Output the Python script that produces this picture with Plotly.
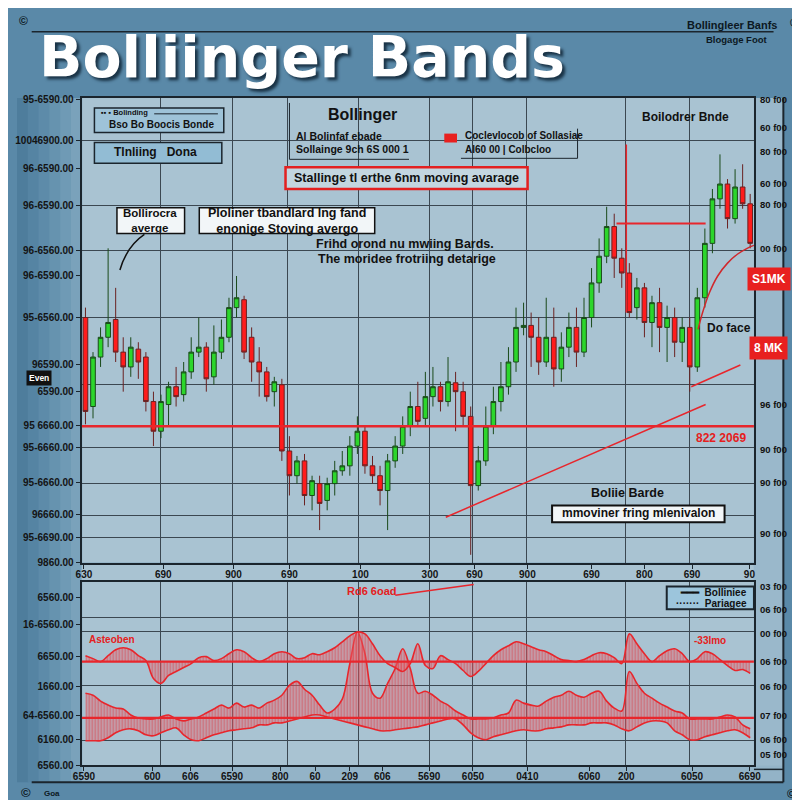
import plotly.graph_objects as go

# ---------------- data ----------------
days = list(range(89))
opens = [9690,9600,9650,9670,9688,9655,9640,9658,9650,9605,
         9575,9602,9620,9612,9635,9655,9660,9630,9655,9670,
         9700,9708,9670,9645,9635,9615,9622,9555,9530,9545,
         9510,9522,9505,9522,9535,9540,9560,9575,9540,9530,
         9515,9545,9560,9580,9600,9588,9610,9620,9605,9624,
         9615,9590,9520,9545,9580,9605,9620,9645,9680,9682,
         9670,9645,9670,9638,9660,9680,9655,9690,9725,9752,
         9782,9750,9735,9700,9720,9685,9705,9680,9690,9665,
         9680,9640,9710,9765,9810,9825,9790,9822,9805]
closes = [9595,9650,9670,9685,9655,9640,9660,9645,9605,9575,
          9605,9620,9610,9635,9655,9660,9628,9655,9670,9700,
          9710,9655,9645,9635,9610,9625,9555,9530,9545,9510,
          9525,9502,9522,9535,9540,9560,9575,9540,9530,9515,
          9545,9560,9580,9600,9585,9610,9620,9605,9625,9615,
          9590,9520,9545,9580,9605,9620,9645,9680,9682,9670,
          9645,9670,9638,9660,9680,9655,9690,9725,9752,9782,
          9750,9735,9695,9720,9685,9705,9680,9690,9665,9680,
          9640,9710,9765,9810,9825,9790,9822,9805,9765]
highs = [9700,9655,9680,9760,9720,9670,9670,9665,9655,9615,
         9612,9625,9640,9645,9670,9690,9665,9682,9688,9710,
         9732,9712,9680,9660,9640,9630,9628,9570,9550,9552,
         9530,9530,9528,9545,9555,9570,9590,9580,9550,9540,
         9552,9570,9590,9615,9625,9635,9640,9625,9650,9635,
         9625,9600,9560,9600,9620,9645,9660,9700,9705,9695,
         9690,9710,9700,9675,9695,9700,9710,9740,9770,9802,
         9795,9760,9745,9730,9725,9712,9720,9702,9700,9690,
         9690,9720,9780,9820,9855,9830,9840,9845,9815]
lows = [9582,9588,9640,9660,9645,9615,9630,9628,9595,9560,
        9568,9580,9600,9605,9628,9650,9615,9622,9648,9665,
        9690,9648,9625,9610,9605,9600,9545,9510,9522,9500,
        9495,9475,9495,9510,9530,9530,9552,9532,9522,9500,
        9475,9538,9552,9570,9580,9580,9600,9595,9600,9575,
        9580,9450,9515,9540,9572,9595,9612,9635,9672,9640,
        9632,9640,9620,9625,9650,9640,9650,9680,9715,9745,
        9730,9720,9690,9688,9670,9660,9655,9645,9650,9645,
        9615,9635,9700,9755,9800,9780,9785,9800,9760]

# moving-average arc at the right end
ma_x = [81.1, 81.7, 82.6, 83.7, 85.0, 86.3, 87.6, 88.5]
ma_y = [9678, 9695, 9715, 9732, 9745, 9754, 9760, 9763]

# upper oscillator (relative to its own zero line)
osc1 = [6,3,0,6,12,14,12,6,1,-17,
        -22,-14,-10,-6,-2,4,5,1,3,8,
        12,10,4,0,3,8,10,8,3,4,
        8,7,10,14,20,26,30,28,18,6,
        -2,-6,-10,-2,18,-4,-7,6,2,-2,
        -9,-15,-10,-2,6,12,16,20,18,15,
        12,10,6,2,1,0,2,6,9,8,
        4,-2,28,18,8,0,6,11,13,8,
        0,3,10,8,2,-4,-9,-8,-12]
# lower band oscillator
band_upper = [25,23,17,13,10,9,3,0,-1,-1,
              1,3,-1,-3,-1,1,5,9,13,10,
              15,11,13,10,15,18,23,33,37,29,
              23,13,5,9,19,55,87,65,25,20,
              35,50,70,50,25,27,23,17,13,7,
              3,-1,-1,-1,0,3,5,18,15,13,
              12,17,21,23,27,23,21,25,27,17,
              10,7,47,35,25,20,15,11,7,5,
              -1,-1,-1,-1,1,3,1,-7,-11]
band_lower = [-23,-23,-23,-20,-15,-12,-11,-13,-17,-18,
              -15,-12,-10,-17,-22,-23,-20,-17,-15,-13,
              -12,-11,-10,-7,-7,-5,-5,-3,-1,1,
              3,3,1,-1,-3,-5,-7,-9,-11,-13,
              -13,-12,-11,-10,-9,-7,-5,-3,-1,-1,
              -7,-15,-20,-22,-19,-17,-15,-13,-12,-13,
              -13,-11,-10,-9,-7,-7,-7,-5,-5,-5,
              -7,-11,-13,-9,-5,-3,-3,-5,-13,-17,
              -22,-22,-19,-17,-15,-13,-12,-15,-20]

# tick labels
top_y_vals = [9910,9869,9841,9803,9758,9733,9690,9642,9615,9581,9559,9523,9491,9468,9442]
top_y_text = ["95-6590.00","10046900.00","96-6590.00","96-6590.00","96-6560.00","96-6590.00",
              "95-6560.00","96590.00","6590.00","95 6660.00","95-6660.00","95-6660.00",
              "96660.00","95-6690.00","9860.00"]
top_y_grid = [9869,9803,9758,9690,9622,9559,9522,9490,9468]
top_x_vals = [-0.2,10.3,19.6,27.0,36.4,45.6,51.5,58.5,67.0,74.0,80.3,87.9]
top_x_text = ["630","690","900","690","100","300","690","900","690","800","690","90"]
grid_x = [10.0,19.4,26.8,36.1,45.5,51.2,58.4,71.5,80.0]
bot_x_vals = [-0.2,8.85,13.9,19.4,25.8,30.4,35.0,39.3,45.5,51.3,58.5,66.7,71.6,80.3,87.95]
bot_x_text = ["6590","600","606","6590","800","60","209","606","5690","6050","0410","6060","200","6050","6690"]
bot_y_vals = [122,95,62,32,2,-22,-48]
bot_y_text = ["6560.00","16-6560.00","6650.00","1660.00","64-6560.00","6160.00","6560.00"]
bot_y_grid = [102,87,33,-23]
right_top = [(90,"80 f00"),(118,"60 f00"),(142,"80 f00"),(174,"60 f00"),(196,"80 f00"),
             (240,"00 f00"),(398,"96 f00"),(443,"90 f00"),(477,"90 f00"),(528,"90 f00")]
right_bot = [(582,"03 f00"),(605,"06 f00"),(630,"00 f00"),(658,"06 f00"),(683,"06 f00"),
             (713,"07 f00"),(737,"06 f00"),(752,"05 f00")]

# ---------------- helpers ----------------
def X(px):
    return px / 800.0

def Y(py):
    return 1 - py / 800.0

DARK = "#1b252d"
RED = "#e8262c"
FONT = "Liberation Sans"
shapes = []
ann = []

def rect(x0, y0, x1, y1, fill=None, line=None, lw=1.5, layer="above"):
    shapes.append(dict(type="rect", xref="paper", yref="paper", x0=X(x0), x1=X(x1),
                       y0=Y(y1), y1=Y(y0), fillcolor=fill or "rgba(0,0,0,0)",
                       line=dict(color=line or "rgba(0,0,0,0)", width=lw if line else 0),
                       layer=layer))

def pline(x0, y0, x1, y1, color=DARK, w=1.5, layer="above"):
    shapes.append(dict(type="line", xref="paper", yref="paper", x0=X(x0), x1=X(x1),
                       y0=Y(y0), y1=Y(y1), line=dict(color=color, width=w), layer=layer))

def text(t, x, y, size=12, color="#111111", xa="center", bold=True, family=FONT, **kw):
    ann.append(dict(text=t, x=X(x), y=Y(y), xref="paper", yref="paper", xanchor=xa,
                    yanchor="middle", showarrow=False,
                    font=dict(family=family, size=size, color=color,
                              weight="bold" if bold else "normal"), **kw))

# ---------------- background decor ----------------
left_cols = ["#4e7d9c", "#5584a3", "#5d8ba9", "#6693af", "#6f9ab5", "#7aa2bb"]
for i, c in enumerate(left_cols):
    rect(i * 11, 88, i * 11 + 11.5, 780, fill=c, layer="below")
rect(66, 558, 752, 577, fill="#a9c3d2", layer="below")
rect(752, 88, 782, 767, fill="#9ab8cb", layer="below")
rect(66, 763, 782, 780, fill="#93b3c7", layer="below")
pline(15, 21, 772, 21, w=1.5)
pline(15, 780, 782, 780, w=2)
pline(782, 88, 782, 780, w=2)
pline(752, 767, 782, 767, w=1.5)

# ---------------- traces ----------------
fig = go.Figure()
fig.add_trace(go.Candlestick(
    x=days, open=opens, high=highs, low=lows, close=closes,
    increasing=dict(fillcolor="#2cd62c", line=dict(color="#1a4a1a", width=1)),
    decreasing=dict(fillcolor="#ff1c1c", line=dict(color="#6a2222", width=1)),
    whiskerwidth=0, xaxis="x", yaxis="y", showlegend=False, hoverinfo="skip"))
fig.add_trace(go.Scatter(x=ma_x, y=ma_y, mode="lines", xaxis="x", yaxis="y",
                         line=dict(color="#d0282c", width=1.5, shape="spline"),
                         showlegend=False, hoverinfo="skip"))

pattern = dict(shape="|", fgcolor="#e01f27", bgcolor="rgba(235,160,170,0.3)", size=3, solidity=0.6)
fig.add_trace(go.Scatter(x=days, y=band_lower, mode="lines", xaxis="x2", yaxis="y2",
                         line=dict(color=RED, width=1.6, shape="spline"),
                         showlegend=False, hoverinfo="skip"))
fig.add_trace(go.Scatter(x=days, y=band_upper, mode="lines", xaxis="x2", yaxis="y2",
                         fill="tonexty", fillpattern=pattern,
                         line=dict(color=RED, width=1.6, shape="spline"),
                         showlegend=False, hoverinfo="skip"))
fig.add_trace(go.Scatter(x=days, y=osc1, mode="lines", xaxis="x2", yaxis="y3",
                         fill="tozeroy", fillpattern=pattern,
                         line=dict(color=RED, width=1.6, shape="spline"),
                         showlegend=False, hoverinfo="skip"))

# ---------------- red lines in data space ----------------
def dline(x0, y0, x1, y1, xref="x", yref="y", color=RED, w=1.6):
    shapes.append(dict(type="line", xref=xref, yref=yref, x0=x0, x1=x1, y0=y0, y1=y1,
                       line=dict(color=color, width=w), layer="above"))

dline(-0.5, 9580, 88.5, 9580, w=2.5)
dline(71.6, 9695, 71.6, 9865, w=1.5)
dline(70.3, 9785, 82.1, 9785, w=2)
dline(47.7, 9488, 82.1, 9602, w=1.5)
dline(80.2, 9620, 86.7, 9642, w=1.5)
dline(-0.5, 0, 88.5, 0, xref="x2", yref="y2", w=2.2)
dline(-0.5, 0, 88.5, 0, xref="x2", yref="y3", w=2.2)

# ---------------- annotations ----------------
text("Bolliinger Bands", 20, 47, size=57, color="#ffffff", xa="left", family="DejaVu Sans")
ann[-1]["font"]["shadow"] = "3px 3px 3px #1a3346"
text("Bollingleer Banfs", 730, 14, size=11, color="#0c1822")
text("Blogage Foot", 735, 29, size=9.5, color="#0c1822")
text("©", 7, 10, size=12, color="#0c1822")
text("©", 793, 12, size=12, color="#0c1822")
text("©", 9, 790, size=13, color="#0c1822")
text("Goa", 26, 791, size=8, color="#0c1822", xa="left")
text("©", 790, 792, size=12, color="#0c1822")

# box A / B
rect(79, 98, 211, 123, fill="#9ec3d8", line=DARK)
text("▪▪ ▪ Bolinding", 84, 103, size=7.5, xa="left")
pline(140, 104, 205, 104, w=1)
text("Bso Bo Boocis Bonde", 92, 115, size=10, xa="left")
rect(79, 133, 209, 154, fill="#92bcd4", line=DARK)
text("Tlnliing   Dona", 97, 143, size=12, xa="left")

text("Bollinger", 353, 105, size=16)
pline(278, 93, 278, 150, w=1)
pline(278, 150, 400, 150, w=1)
text("Al Bolinfaf ebade", 283, 126, size=10.5, xa="left")
text("Sollainge 9ch 6S 000 1", 283, 140, size=10.5, xa="left")

rect(274, 158, 521, 180, fill="#c3d6e0", line="#e32020", lw=2.5)
text("Stallinge tl erthe 6nm moving avarage", 397, 169, size=12.5)

rect(436, 124, 449, 133, fill="#e8201f")
pline(572, 119, 572, 149, w=1)
pline(453, 149, 572, 149, w=1)
text("Coclevlocob of Sollasiae", 455, 126, size=10, xa="left")
text("Al60 00 | Colbcloo", 455, 140, size=10, xa="left")

text("Boilodrer Bnde", 682, 107, size=12)

rect(102, 199, 171, 225, fill="#f2f6f8", line="#111111")
text("Bollirocra<br>averge", 136, 212, size=11.5)
rect(186, 199, 365, 225, fill="#f2f6f8", line="#111111")
text("Ploliner tbandlard lng fand<br>enonige Stoving avergo", 275, 212, size=12.5)
shapes.append(dict(type="path", xref="paper", yref="paper",
                   path=f"M {X(105)},{Y(262)} Q {X(112)},{Y(238)} {X(130)},{Y(226)}",
                   line=dict(color="#111111", width=1.5)))

text("Frihd orond nu mwiing Bards.", 396, 236, size=12.5)
text("The moridee frotriing detarige", 398, 251, size=12.5)

text("Even", 22, 371, size=8.5, color="#ffffff", bgcolor="#111111", borderpad=2)
text("Do face", 727, 321, size=12)
text("S1MK", 767, 271, size=12, color="#ffffff", bgcolor="#e8201f", borderpad=4)
text("8 MK", 767, 341, size=12, color="#ffffff", bgcolor="#e8201f", borderpad=4)
text("822 2069", 718, 432, size=12, color="#e52020")
text("Boliie Barde", 623, 487, size=12.5)
rect(546, 500, 722, 517, fill="#f2f6f8", line="#111111", lw=2)
text("mmoviner fring mlenivalon", 634, 508, size=12)

text("Rd6 6oad", 362, 587, size=11, color="#e52020")
pline(386, 591, 466, 580, color=RED, w=1.5)
text("Asteoben", 97, 636, size=10, color="#e52020")
text("-33lmo", 707, 637, size=10, color="#e52020")

rect(663, 582, 752, 605, fill="#9cc5dc", line=DARK, lw=2)
text("━━━  Bolliniee", 747, 588, size=10, xa="right")
text("·······  Pariagee", 747, 599, size=10, xa="right")

for py, t in right_top + right_bot:
    text(t, 756, py, size=9.5, xa="left")

# ---------------- layout ----------------
tickfont = dict(family=FONT, size=10, color="#141414", weight="bold")
grid = dict(showgrid=True, gridcolor="#3b4751", gridwidth=1.4, ticklen=0)
axline = dict(showline=True, mirror=True, linecolor=DARK, linewidth=2, zeroline=False,
              showgrid=False, ticks="outside", ticklen=4, tickcolor=DARK, tickfont=tickfont)
xdom = [X(66), X(752)]

fig.update_layout(
    width=800, height=800, margin=dict(l=0, r=0, t=0, b=0),
    paper_bgcolor="#5a89a8", plot_bgcolor="#a9c3d2", showlegend=False,
    boxgap=0.12,
    xaxis=dict(domain=xdom, range=[-0.5, 88.5], anchor="y", rangeslider=dict(visible=False),
               tickmode="array", tickvals=top_x_vals, ticktext=top_x_text, ticklabelstandoff=-3,
               minor=dict(tickmode="array", tickvals=grid_x, **grid), **axline),
    yaxis=dict(domain=[Y(558), Y(88)], range=[9442, 9912], anchor="x",
               tickmode="array", tickvals=top_y_vals, ticktext=top_y_text,
               minor=dict(tickmode="array", tickvals=top_y_grid, **grid), **axline),
    xaxis2=dict(domain=xdom, range=[-0.5, 88.5], anchor="y2",
                tickmode="array", tickvals=bot_x_vals, ticktext=bot_x_text, ticklabelstandoff=-3,
                minor=dict(tickmode="array", tickvals=grid_x, **grid), **axline),
    yaxis2=dict(domain=[Y(763), Y(577)], range=[-48, 138], anchor="x2",
                tickmode="array", tickvals=bot_y_vals, ticktext=bot_y_text,
                minor=dict(tickmode="array", tickvals=bot_y_grid, **grid), **axline),
    yaxis3=dict(overlaying="y2", range=[-105, 81], visible=False, anchor="x2"),
    shapes=shapes, annotations=ann,
)

fig.write_html("out.html")
